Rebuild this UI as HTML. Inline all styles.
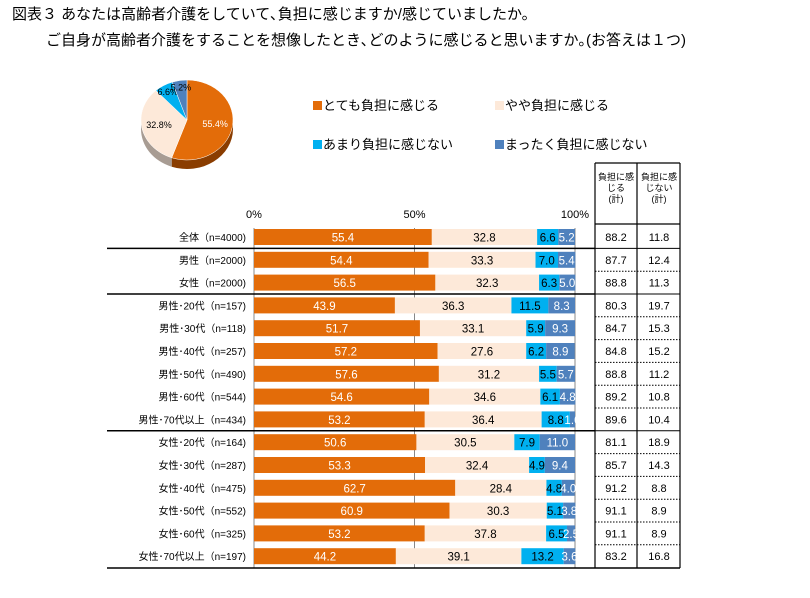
<!DOCTYPE html>
<html><head><meta charset="utf-8"><style>
body{margin:0;background:#fff;}
#root{position:relative;width:810px;height:598px;overflow:hidden;font-family:"Liberation Sans","Noto Sans CJK JP",sans-serif;}
svg text{font-family:"Liberation Sans","Noto Sans CJK JP",sans-serif;}
</style></head><body>
<div id="root">
<svg id="svg" width="810" height="598" xmlns="http://www.w3.org/2000/svg">
<text x="12" y="19" font-size="15" fill="#000">図表３ あなたは高齢者介護をしていて､負担に感じますか/感じていましたか。</text>
<text x="46" y="45" font-size="15" fill="#000">ご自身が高齢者介護をすることを想像したとき､どのように感じると思いますか｡(お答えは１つ)</text>
<g id="pie"></g>
<g>
<rect x="313" y="101" width="9" height="9" fill="#E36C09"/>
<text x="323" y="110" font-size="13">とても負担に感じる</text>
<rect x="495" y="101" width="9" height="9" fill="#FDE9D9"/>
<text x="505" y="110" font-size="13">やや負担に感じる</text>
<rect x="313" y="140" width="9" height="9" fill="#00B0F0"/>
<text x="323" y="149" font-size="13">あまり負担に感じない</text>
<rect x="495" y="140" width="9" height="9" fill="#4F81BD"/>
<text x="505" y="149" font-size="13">まったく負担に感じない</text>
</g>
<g id="bars"></g>
<g id="table"></g>
</svg>
</div>
<script>
const categories=["全体（n=4000)","男性（n=2000)","女性（n=2000)","男性･20代（n=157)","男性･30代（n=118)","男性･40代（n=257)","男性･50代（n=490)","男性･60代（n=544)","男性･70代以上（n=434)","女性･20代（n=164)","女性･30代（n=287)","女性･40代（n=475)","女性･50代（n=552)","女性･60代（n=325)","女性･70代以上（n=197)"];
const veryBurden=[55.4,54.4,56.5,43.9,51.7,57.2,57.6,54.6,53.2,50.6,53.3,62.7,60.9,53.2,44.2];
const someBurden=[32.8,33.3,32.3,36.3,33.1,27.6,31.2,34.6,36.4,30.5,32.4,28.4,30.3,37.8,39.1];
const notMuch=[6.6,7.0,6.3,11.5,5.9,6.2,5.5,6.1,8.8,7.9,4.9,4.8,5.1,6.5,13.2];
const notAtAll=[5.2,5.4,5.0,8.3,9.3,8.9,5.7,4.8,1.6,11.0,9.4,4.0,3.8,2.5,3.6];
const totalBurden=[88.2,87.7,88.8,80.3,84.7,84.8,88.8,89.2,89.6,81.1,85.7,91.2,91.1,91.1,83.2];
const totalNot=[11.8,12.4,11.3,19.7,15.3,15.2,11.2,10.8,10.4,18.9,14.3,8.8,8.9,8.9,16.8];
const pieValues=[55.4,32.8,6.6,5.2];
const tickLabels=["0%","50%","100%"];
const tickValues=[0,50,100];
const groupEnds=[0,2,8];

const NS="http://www.w3.org/2000/svg";
const colors=["#E36C09","#FDE9D9","#00B0F0","#4F81BD"];
const txtCol=["#fff","#000","#000","#fff"];
function mk(tag,attrs,parent,text){const e=document.createElementNS(NS,tag);for(const k in attrs)e.setAttribute(k,attrs[k]);if(text!==undefined)e.textContent=text;parent.appendChild(e);return e;}
const X0=254,X1=575;
function xs(v){return X0+(X1-X0)*v/100;}
function ys(i){return 237+i*22.8;}
const bars=document.getElementById('bars');
const tbl=document.getElementById('table');
// ticks
tickValues.forEach((t,k)=>{
  const l=mk('line',{x1:xs(t),x2:xs(t),y1:228,y2:568,stroke:'#888','stroke-width':1},bars);
  
  
  const tx=mk('text',{x:xs(t),y:218,'font-size':11,'text-anchor':'middle'},bars,tickLabels[k]);
  
  
});
const series=[veryBurden,someBurden,notMuch,notAtAll];
categories.forEach((c,i)=>{
  const y=ys(i);
  const lb=mk('text',{x:246,y:y+4,'font-size':10,'text-anchor':'end'},bars,c);
  
  
  let acc=0;
  series.forEach((s,k)=>{
    const v=s[i];
    const r=mk('rect',{x:xs(acc),y:y-8,width:xs(acc+v)-xs(acc),height:16,fill:colors[k]},bars);
    
    
    const t=mk('text',{x:(xs(acc)+xs(acc+v))/2,y:y+4.5,'font-size':11.5,'text-anchor':'middle',fill:txtCol[k]},bars,v.toFixed(1));
    
    
    acc+=v;
  });
  const t1=mk('text',{x:616,y:y+4,'font-size':11,'text-anchor':'middle'},tbl,totalBurden[i].toFixed(1));
  
  
  const t2=mk('text',{x:659,y:y+4,'font-size':11,'text-anchor':'middle'},tbl,totalNot[i].toFixed(1));
  
  
  if(i<categories.length-1){
    const yy=(ys(i)+ys(i+1))/2;
    if(groupEnds.includes(i)){
      const l=mk('line',{x1:107,x2:595,y1:yy,y2:yy,stroke:'#000','stroke-width':1.5},bars);
      
      
      const l2=mk('line',{x1:595,x2:680,y1:yy,y2:yy,stroke:'#000','stroke-width':1},tbl);
      
      
    } else {
      const l2=mk('line',{x1:595,x2:680,y1:yy,y2:yy,stroke:'#000','stroke-width':1,'stroke-dasharray':'1.5,1.5'},tbl);
      
      
    }
  }
});
const bot=mk('line',{x1:107,x2:680,y1:568,y2:568,stroke:'#000','stroke-width':1.5},bars);


// table frame
[[595,163,595,568],[637,163,637,568],[680,163,680,568],[595,163,680,163],[595,224,680,224]].forEach(a=>{
  const l=mk('line',{x1:a[0],y1:a[1],x2:a[2],y2:a[3],stroke:'#000','stroke-width':1.2},tbl);
  
  
});
[["負担に感","じる","(計)",616],["負担に感","じない","(計)",659]].forEach(h=>{
  [0,1,2].forEach(j=>{
    const t=mk('text',{x:h[3],y:180+j*11,'font-size':9,'text-anchor':'middle'},tbl,h[j]);
    
    
  });
});
// pie
const pie=document.getElementById('pie');
const cx=187,cy=120,rx=46,ry=40,dep=9;
const tot=pieValues.reduce((a,b)=>a+b,0);
const darks=["#8A3D00","#A89C93","#00708F","#2F4E75"];
function pt(a,dy){return [cx+rx*Math.sin(a),cy-ry*Math.cos(a)+(dy||0)];}
let a0=0;
const angs=[];
pieValues.forEach(v=>{const a1=a0+2*Math.PI*v/tot;angs.push([a0,a1]);a0=a1;});
// side walls (front half: angles between PI/2 and 3PI/2)
angs.forEach((ab,k)=>{
  const s=Math.max(ab[0],Math.PI/2),e=Math.min(ab[1],3*Math.PI/2);
  if(e<=s)return;
  const p1=pt(s),p2=pt(e),p3=pt(e,dep),p4=pt(s,dep);
  const d=`M${p1[0]},${p1[1]} A${rx},${ry} 0 0 1 ${p2[0]},${p2[1]} L${p3[0]},${p3[1]} A${rx},${ry} 0 0 0 ${p4[0]},${p4[1]} Z`;
  const p=mk('path',{d:d,fill:darks[k]},pie);
  
  
});
angs.forEach((ab,k)=>{
  const p1=pt(ab[0]),p2=pt(ab[1]);
  const large=(ab[1]-ab[0])>Math.PI?1:0;
  const p=mk('path',{d:`M${cx},${cy} L${p1[0]},${p1[1]} A${rx},${ry} 0 ${large} 1 ${p2[0]},${p2[1]} Z`,fill:colors[k],stroke:'#fff','stroke-width':0.5},pie);
  
  
  const m=(ab[0]+ab[1])/2;
  const f=k<2?0.62:0.82;
  const t=mk('text',{x:cx+rx*f*Math.sin(m),y:cy-ry*f*Math.cos(m)+3,'font-size':9,'text-anchor':'middle',fill:k===0?'#fff':'#000'},pie,pieValues[k].toFixed(1)+'%');
  
  
});
</script>
</body></html>
